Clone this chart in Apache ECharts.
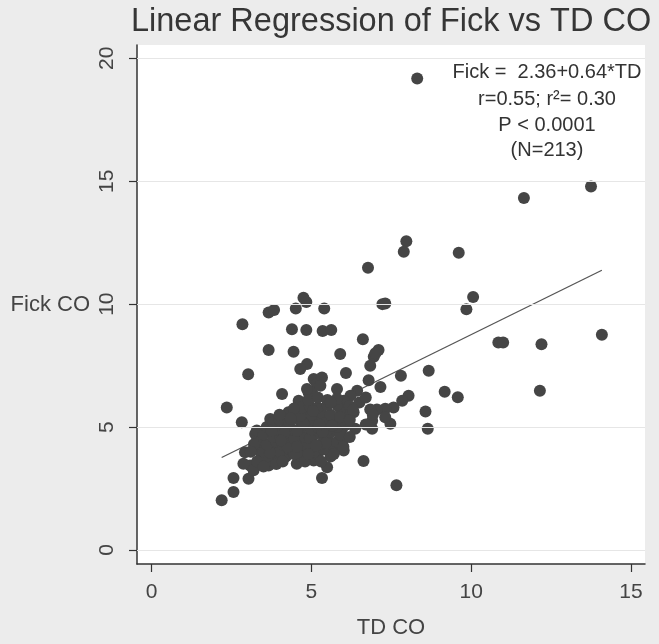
<!DOCTYPE html>
<html><head><meta charset="utf-8">
<script src="https://cdn.jsdelivr.net/npm/echarts@6/dist/echarts.min.js"></script>
<style>html,body{margin:0;padding:0;background:#ececec}#c{width:659px;height:644px}</style>
</head><body><div id="c"></div>
<script>
const titleText = 'Linear Regression of Fick vs TD CO';
const xName = 'TD CO';
const yName = 'Fick CO';
const xTicks = [0, 5, 10, 15];
const yTicks = [0, 5, 10, 15, 20];
const intercept = 2.36;
const slope = 0.64;
const annotationLines = ['Fick =  2.36+0.64*TD', 'r=0.55; r\u00b2= 0.30', 'P < 0.0001', '(N=213)'];

const tdCO = [
 8.31,11.65,13.75,7.97,7.89,9.61,6.77,4.75,4.84,3.66,
 3.83,4.51,5.40,7.31,7.22,10.06,9.85,2.84,4.39,4.84,
 5.35,5.62,6.61,3.66,4.44,5.90,7.10,6.95,6.84,7.00,
 10.85,11.00,12.20,14.09,12.15,4.86,4.65,6.08,3.02,6.79,
 7.16,7.80,8.67,4.08,5.07,5.33,5.17,4.91,5.02,5.28,
 4.86,6.43,6.22,6.01,8.04,7.84,7.57,7.31,7.05,6.84,
 9.17,9.58,8.57,8.64,6.32,6.37,6.11,5.90,5.96,6.90,
 6.90,7.47,7.31,6.92,6.70,6.01,6.63,7.66,2.35,2.82,
 2.19,2.56,2.56,3.03,3.08,2.87,2.92,3.24,3.19,3.66,
 4.54,5.07,5.49,5.33,5.80,4.60,4.28,3.71,3.29,3.71,
 3.55,
 3.4,3.6,3.9,4.2,4.7,5.2,5.6,
 3.3,3.5,3.8,4.0,4.3,4.6,4.9,5.1,5.4,5.7,4.45,3.7,
 3.4,3.6,3.9,4.1,4.4,4.7,5.0,5.3,5.5,5.8,6.0,4.25,4.85,
 3.5,3.8,4.0,4.3,4.6,4.8,5.1,5.4,5.6,5.9,6.2,4.45,4.95,
 3.6,3.9,4.2,4.4,4.7,5.0,5.2,5.5,5.8,6.1,4.55,5.35,
 3.8,4.0,4.3,4.6,4.9,5.1,5.4,5.7,6.0,4.75,5.25,
 4.0,4.5,4.8,5.0,5.3,5.6,5.9,6.2,4.65,
 4.7,4.95,5.2,5.5,5.8,6.2,4.45,
 4.9,5.2,5.5,5.8,6.5,6.7,
 3.2,3.1,3.3,3.5,3.9,4.1,4.8,5.3,5.7,6.0,
 4.15,4.35,5.45,5.65,5.05,4.05,3.75,4.9,5.6,6.3,5.15,4.55
];
const fickCO = [
 19.18,14.32,14.78,12.56,12.13,12.09,11.48,10.26,10.09,9.66,
 9.76,9.82,9.82,10.03,10.00,10.29,9.79,9.18,8.98,8.95,
 8.91,8.95,8.57,8.13,8.06,7.97,8.13,7.86,7.49,8.00,
 8.44,8.44,8.37,8.75,6.48,7.56,7.36,7.20,7.15,6.90,
 6.63,7.09,7.29,6.34,6.95,7.02,6.75,6.41,6.41,6.68,
 6.55,6.48,6.27,6.07,6.27,6.07,5.80,5.74,5.71,5.71,
 6.44,6.21,5.63,4.93,5.60,4.93,5.60,5.74,4.93,5.26,
 4.93,5.13,5.40,5.50,5.10,4.05,3.62,2.63,5.80,5.20,
 2.02,2.36,2.93,2.90,3.44,3.51,3.98,4.72,3.24,3.44,
 3.51,3.64,3.37,2.93,6.55,6.07,5.60,5.33,4.86,3.64,
 3.55,
 3.7,3.8,3.7,3.8,3.8,3.9,3.8,
 4.1,4.0,4.1,4.0,4.1,4.0,4.1,4.0,4.1,4.2,3.9,3.95,
 4.4,4.3,4.4,4.3,4.4,4.3,4.4,4.3,4.5,4.4,4.5,4.2,4.25,
 4.7,4.6,4.7,4.6,4.7,4.6,4.7,4.6,4.8,4.7,4.6,4.55,4.55,
 5.0,4.9,5.0,4.9,5.0,4.9,5.0,4.9,5.0,5.1,4.85,4.8,
 5.2,5.3,5.2,5.3,5.2,5.3,5.2,5.3,5.3,5.15,5.1,
 5.5,5.5,5.6,5.5,5.6,5.5,5.4,5.3,5.45,
 5.8,5.85,5.8,5.9,5.9,5.85,5.75,
 6.1,6.2,6.1,6.15,6.0,6.2,
 4.3,4.0,3.6,3.4,3.5,3.6,3.6,3.6,3.9,4.2,
 4.75,5.35,4.35,5.05,5.65,4.45,4.85,3.9,6.0,5.7,4.25,4.2
];

const points = tdCO.map((x, i) => [x, fickCO[i]]);
const minX = Math.min(...tdCO), maxX = Math.max(...tdCO);
const fitLine = [[minX, intercept + slope * minX], [maxX, intercept + slope * maxX]];

const chart = echarts.init(document.getElementById('c'), null, {renderer: 'canvas'});
const axisText = {color: '#444', fontSize: 21, fontFamily: 'Liberation Sans'};
chart.setOption({
  backgroundColor: '#ececec',
  animation: false,
  title: {
    text: titleText, left: 126, top: 1,
    textStyle: {fontSize: 32.5, fontWeight: 'normal', color: '#363636', fontFamily: 'Liberation Sans'}
  },
  grid: {left: 137, right: 14, top: 45, bottom: 79, show: true, backgroundColor: '#ffffff', borderWidth: 0},
  xAxis: {
    type: 'value', min: -0.46, max: 15.44,
    name: xName, nameLocation: 'middle', nameGap: 53,
    nameTextStyle: {color: '#444', fontSize: 22, fontFamily: 'Liberation Sans'},
    axisLine: {show: true, onZero: false, lineStyle: {color: '#333', width: 1.5}},
    axisTick: {show: true, length: 8, customValues: xTicks, lineStyle: {color: '#333', width: 1.2}},
    axisLabel: Object.assign({customValues: xTicks, margin: 18}, axisText),
    splitLine: {show: false}
  },
  yAxis: {
    type: 'value', min: -0.57, max: 20.54,
    name: yName, nameLocation: 'middle', nameGap: 47, nameRotate: 0,
    nameTextStyle: {color: '#444', fontSize: 22, fontFamily: 'Liberation Sans', align: 'right'},
    axisLine: {show: true, onZero: false, lineStyle: {color: '#333', width: 1.5}},
    axisTick: {show: true, length: 8, customValues: yTicks, lineStyle: {color: '#333', width: 1.2}},
    axisLabel: Object.assign({customValues: yTicks, rotate: 90, margin: 19}, axisText),
    splitLine: {show: false}
  },
  graphic: annotationLines.map((t, i) => ({
    type: 'text', z: 10,
    x: 547, y: [72, 99, 125, 150][i],
    style: {text: t, x: 0, y: 0, textAlign: 'center', textVerticalAlign: 'middle',
      fill: '#333', font: '20px "Liberation Sans"'}
  })),
  series: [
    {
      type: 'scatter', data: [], z: 1, silent: true,
      markLine: {
        silent: true, symbol: ['none', 'none'], label: {show: false},
        lineStyle: {color: '#e6e6e6', type: 'solid', width: 1.2},
        data: yTicks.map(v => ({yAxis: v}))
      }
    },
    {
      type: 'line', data: fitLine, z: 2, symbol: 'none', silent: true,
      lineStyle: {color: '#555', width: 1.3}
    },
    {
      type: 'scatter', data: points, z: 3, symbol: 'circle', symbolSize: 12,
      itemStyle: {color: '#454545', opacity: 1}
    }
  ]
});
</script></body></html>
